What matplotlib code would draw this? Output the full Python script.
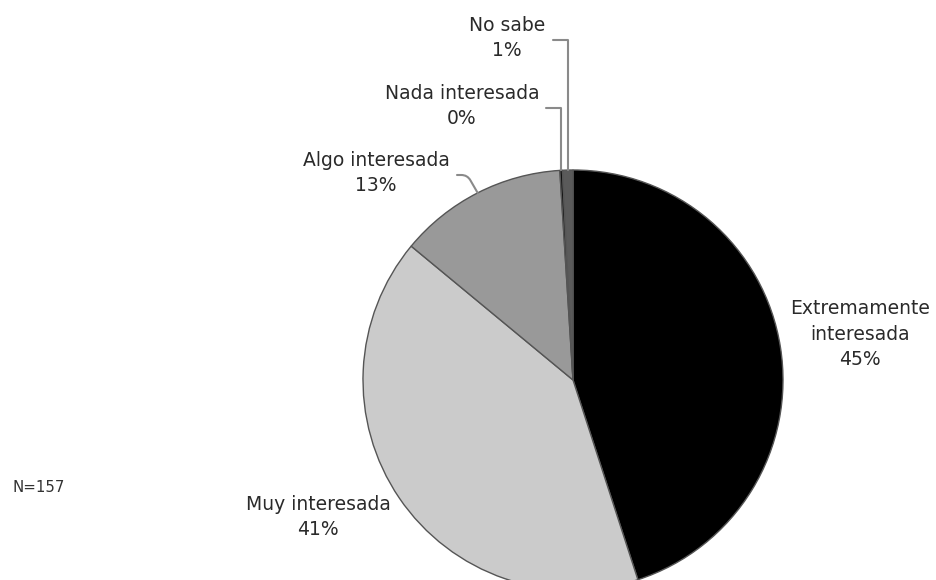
import numpy as np
import matplotlib
matplotlib.use("Agg")
import matplotlib.pyplot as plt

# data
labels = ["Extremamente\ninteresada", "Muy interesada", "Algo interesada",
          "Nada interesada", "No sabe"]
pct_text = ["45%", "41%", "13%", "0%", "1%"]
values = [45.0, 41.0, 13.0, 0.2, 0.8]
colors = ["#000000", "#cbcbcb", "#999999", "#111111", "#5a5a5a"]
n_text = "N=157"

W, H = 936, 580
plt.rcParams["font.family"] = ["DejaVu Sans"]

fig = plt.figure(figsize=(W / 100, H / 100), dpi=100)
ax = fig.add_axes([0, 0, 1, 1])

cx, cy, r = 573, H - 380, 210
wedges, _ = ax.pie(values, colors=colors, startangle=90, counterclock=False,
                   center=(cx, cy), radius=r,
                   wedgeprops=dict(edgecolor="#555555", linewidth=1.0))
ax.set_xlim(0, W)
ax.set_ylim(0, H)
ax.set_aspect("equal")
ax.axis("off")


def edge_point(w):
    a = np.deg2rad((w.theta1 + w.theta2) / 2)
    return cx + r * np.cos(a), cy + r * np.sin(a)


# label positions in pixels (x, y from top), line start for leaders
label_pos = [(860, 334), (318, 517), (376, 173), (462, 106), (507, 38)]
leaders = {
    2: ((457, 175), "angle,angleA=0,angleB=120,rad=6"),
    3: ((546, 108), "angle,angleA=0,angleB=90,rad=0"),
    4: ((553, 40), "angle,angleA=0,angleB=90,rad=0"),
}

txt_kw = dict(fontsize=13.5, color="#2a2a2a", ha="center", va="center",
              linespacing=1.45)
for i, (lab, p) in enumerate(zip(labels, pct_text)):
    x, y = label_pos[i]
    ax.text(x, H - y, lab + "\n" + p, **txt_kw)

for i, (start, style) in leaders.items():
    ex, ey = edge_point(wedges[i])
    ax.annotate("", xy=(ex, ey), xytext=(start[0], H - start[1]),
                arrowprops=dict(arrowstyle="-", color="#8a8a8a", lw=1.5,
                                connectionstyle=style, shrinkA=0, shrinkB=0))

ax.text(12, H - 488, n_text, fontsize=10.8, color="#333333", ha="left", va="center")

fig.savefig("out.png", dpi=100)
